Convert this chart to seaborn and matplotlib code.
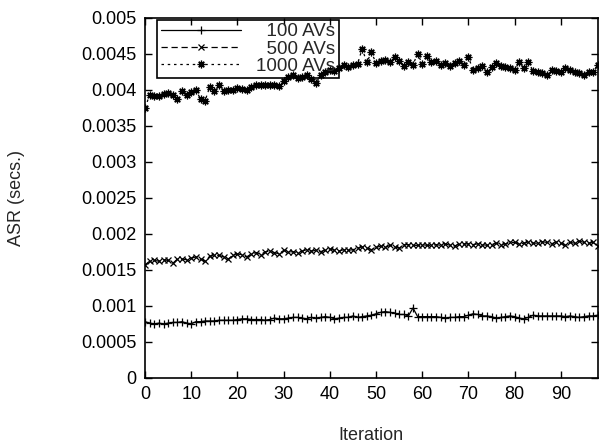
import matplotlib
matplotlib.use("Agg")
import matplotlib.pyplot as plt
import seaborn as sns
import numpy as np

iterations = list(range(99))

asr_100 = [
    0.00078, 0.00076, 0.00075, 0.00076, 0.00075, 0.00076, 0.00077, 0.00077, 0.00078, 0.00076,
    0.00075, 0.00078, 0.00078, 0.00079, 0.00079, 0.00079, 0.00080, 0.00080, 0.00080, 0.00080,
    0.00081, 0.00082, 0.00082, 0.00081, 0.00081, 0.00081, 0.00080, 0.00081, 0.00083, 0.00082,
    0.00082, 0.00083, 0.00084, 0.00084, 0.00083, 0.00082, 0.00084, 0.00083, 0.00084, 0.00085,
    0.00084, 0.00082, 0.00083, 0.00084, 0.00084, 0.00086, 0.00084, 0.00085, 0.00086, 0.00087,
    0.00089, 0.00091, 0.00092, 0.00091, 0.00090, 0.00088, 0.00088, 0.00086, 0.00097, 0.00085,
    0.00085, 0.00085, 0.00085, 0.00085, 0.00084, 0.00083, 0.00084, 0.00084, 0.00085, 0.00085,
    0.00087, 0.00089, 0.00088, 0.00086, 0.00086, 0.00085, 0.00083, 0.00084, 0.00085, 0.00086,
    0.00085, 0.00083, 0.00082, 0.00084, 0.00087, 0.00086, 0.00086, 0.00086, 0.00086, 0.00086,
    0.00086, 0.00085, 0.00086, 0.00085, 0.00084, 0.00085, 0.00086, 0.00086, 0.00087,
]

asr_500 = [
    0.00157, 0.00162, 0.00163, 0.00162, 0.00164, 0.00163, 0.00159, 0.00165, 0.00165, 0.00164,
    0.00166, 0.00168, 0.00165, 0.00162, 0.00169, 0.00170, 0.00170, 0.00168, 0.00165, 0.00170,
    0.00172, 0.00171, 0.00168, 0.00172, 0.00174, 0.00171, 0.00175, 0.00176, 0.00174, 0.00172,
    0.00177, 0.00175, 0.00175, 0.00174, 0.00176, 0.00178, 0.00176, 0.00177, 0.00175, 0.00178,
    0.00179, 0.00177, 0.00176, 0.00178, 0.00177, 0.00178, 0.00180, 0.00182, 0.00180, 0.00178,
    0.00181, 0.00183, 0.00181, 0.00184, 0.00182, 0.00180, 0.00185, 0.00185, 0.00184, 0.00184,
    0.00185, 0.00184, 0.00184, 0.00185, 0.00184, 0.00186, 0.00184, 0.00183, 0.00186, 0.00186,
    0.00186, 0.00185, 0.00186, 0.00185, 0.00184, 0.00185, 0.00187, 0.00185, 0.00186, 0.00188,
    0.00188, 0.00186, 0.00187, 0.00189, 0.00187, 0.00187, 0.00189, 0.00188, 0.00186, 0.00189,
    0.00187, 0.00184, 0.00188, 0.00187, 0.00190, 0.00188, 0.00187, 0.00188, 0.00183,
]

asr_1000 = [
    0.00375, 0.00393, 0.00391, 0.00392, 0.00394, 0.00395, 0.00393, 0.00387, 0.00398, 0.00393,
    0.00397, 0.00400, 0.00387, 0.00385, 0.00404, 0.00398, 0.00406, 0.00398, 0.00400, 0.00399,
    0.00402, 0.00401, 0.00400, 0.00404, 0.00406, 0.00406, 0.00407, 0.00406, 0.00406, 0.00405,
    0.00412, 0.00418, 0.00420, 0.00416, 0.00418, 0.00420, 0.00415, 0.00410, 0.00420, 0.00425,
    0.00428, 0.00426, 0.00430, 0.00434, 0.00432, 0.00435, 0.00436, 0.00457, 0.00438, 0.00452,
    0.00437, 0.00440, 0.00442, 0.00438, 0.00445, 0.00440, 0.00433, 0.00438, 0.00435, 0.00450,
    0.00436, 0.00447, 0.00438, 0.00440, 0.00435, 0.00437, 0.00433, 0.00437, 0.00440, 0.00434,
    0.00445, 0.00428, 0.00430, 0.00433, 0.00425, 0.00432, 0.00437, 0.00433, 0.00432, 0.00430,
    0.00428, 0.00438, 0.00430, 0.00438, 0.00426, 0.00425, 0.00423, 0.00421, 0.00428, 0.00426,
    0.00424, 0.00430, 0.00427, 0.00425, 0.00423, 0.00420, 0.00424, 0.00425, 0.00435,
]

series_labels = ["100 AVs", "500 AVs", "1000 AVs"]
x_ticks = [0, 10, 20, 30, 40, 50, 60, 70, 80, 90]
y_ticks = [0, 0.0005, 0.001, 0.0015, 0.002, 0.0025, 0.003, 0.0035, 0.004, 0.0045, 0.005]
y_tick_labels = ["0", "0.0005", "0.001", "0.0015", "0.002", "0.0025", "0.003",
                 "0.0035", "0.004", "0.0045", "0.005"]

sns.set_style("ticks")
plt.rcParams["font.family"] = ["Liberation Sans", "DejaVu Sans"]

fig = plt.figure(figsize=(6.02, 4.44), dpi=100)
ax = fig.add_axes([0.241, 0.149, 0.752, 0.811])

common = dict(ax=ax, color="black", markeredgecolor="black", markerfacecolor="black",
              linewidth=0.9)
sns.lineplot(x=iterations, y=asr_100, linestyle="-", marker="+", markersize=6,
             markeredgewidth=0.9, label="  " + series_labels[0], **common)
sns.lineplot(x=iterations, y=asr_500, linestyle=(0, (5, 3)), marker="x", markersize=5,
             markeredgewidth=0.9, label="  " + series_labels[1], **common)
sns.lineplot(x=iterations, y=asr_1000, linestyle=(0, (2, 3)), marker=(8, 2, 0),
             markersize=5.5, markeredgewidth=0.9, label=series_labels[2], **common)

ax.set_xlim(0, 98)
ax.set_ylim(0, 0.005)
ax.set_xticks(x_ticks)
ax.set_xticklabels([str(t) for t in x_ticks])
ax.set_yticks(y_ticks)
ax.set_yticklabels(y_tick_labels)
ax.tick_params(direction="in", top=True, right=True, length=5, width=1,
               labelsize=13, colors="black", pad=6)
for s in ax.spines.values():
    s.set_visible(True)
    s.set_linewidth(1.2)
    s.set_color("black")

ax.set_xlabel("Iteration", fontsize=13)
ax.set_ylabel("ASR (secs.)", fontsize=13)
ax.xaxis.set_label_coords(0.5, -0.137)
ax.yaxis.set_label_coords(-0.265, 0.5)

leg = ax.legend(loc="upper left", bbox_to_anchor=(0.026, 0.995), frameon=True,
                fancybox=False, edgecolor="black", framealpha=1.0, fontsize=13.5,
                handlelength=4.3, borderpad=0.2, labelspacing=0.0,
                handletextpad=0.8, borderaxespad=0.0)
leg.get_frame().set_linewidth(1.2)
leg.get_frame().set_facecolor("none")

fig.savefig("out.png", dpi=100)
